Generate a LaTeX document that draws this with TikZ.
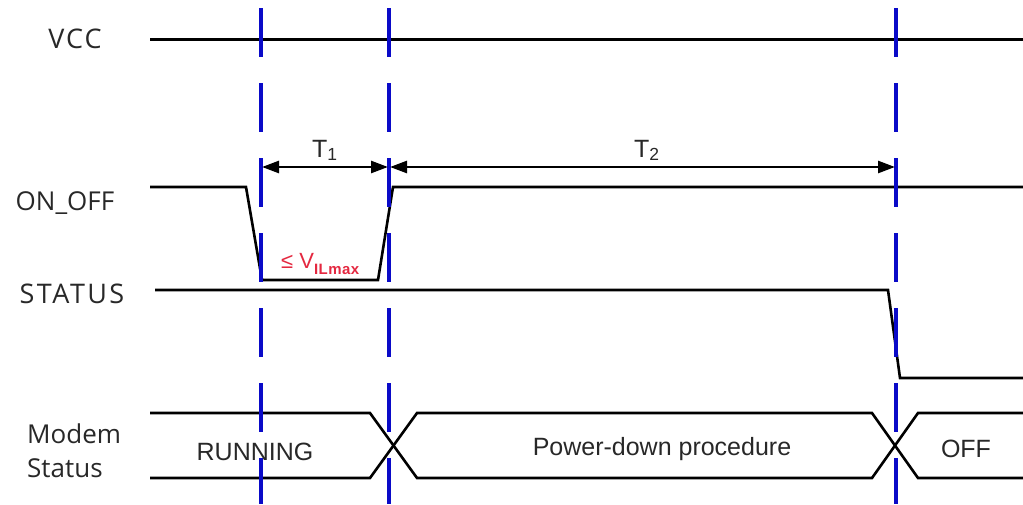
\documentclass[tikz,border=0pt]{standalone}
\usepackage{fontspec}
\setmainfont{Liberation Sans}
\newfontfamily\lblfont{Open Sans}
\newfontfamily\lblwide{Open Sans}[LetterSpace=9]
\newfontfamily\lblmid{Open Sans}[LetterSpace=7]
\newfontfamily\subfont{Liberation Sans}[LetterSpace=3]
\usetikzlibrary{arrows.meta}
\definecolor{mkblue}{RGB}{10,10,200}
\definecolor{mkred}{RGB}{228,40,64}
\definecolor{txt}{RGB}{40,40,40}
\begin{document}
\begin{tikzpicture}[x=1pt,y=-1pt,
  sig/.style={line width=2.6pt, black, line join=miter},
  marker/.style={line width=3.2pt, mkblue, dash pattern=on 49pt off 26pt},
  lbl/.style={font=\lblfont\fontsize{26}{31}\selectfont, text=txt, inner sep=0pt},
  inner/.style={font=\fontsize{25}{29}\selectfont, text=txt, inner sep=0pt, anchor=base},
  dimlbl/.style={font=\fontsize{25}{29}\selectfont, text=txt, inner sep=0pt, anchor=base west},
  dimarrow/.style={line width=2.6pt, {Triangle[length=17pt,width=12pt]}-{Triangle[length=17pt,width=12pt]}},
]
\useasboundingbox (0,0) rectangle (1023,504);
% signal labels
\node[lbl, anchor=base, font=\lblmid\fontsize{27}{31}\selectfont] (vcc) at (75,48) {VCC};
\node[lbl, anchor=base] (onoff) at (65,210) {ON\_OFF};
\node[lbl, anchor=base, font=\lblwide\fontsize{27}{31}\selectfont] (status) at (72,303) {STATUS};
\node[lbl, anchor=base west] (modem) at (27,443) {Modem};
\node[lbl, anchor=base west] (modemst) at (27,477) {Status};
% VCC
\draw[sig, line width=3pt] (150,39) -- (1023,39);
% ON_OFF
\draw[sig] (150,187) -- (246,187) -- (262,280) -- (378,280) -- (393,187) -- (1023,187);
% STATUS
\draw[sig] (155,290) -- (888,290) -- (900,378) -- (1023,378);
% Modem status bus
\draw[sig] (150,413) -- (370,413) -- (417,478) -- (872,478) -- (918,413) -- (1023,413);
\draw[sig] (150,478) -- (370,478) -- (417,413) -- (872,413) -- (918,478) -- (1023,478);
% marker lines
\coordinate (m1t) at (261,8); \coordinate (m1b) at (261,504);
\coordinate (m2t) at (389,8); \coordinate (m2b) at (389,504);
\coordinate (m3t) at (896,8); \coordinate (m3b) at (896,504);
\draw[marker] (m1t) -- (m1b);
\draw[marker] (m2t) -- (m2b);
\draw[marker] (m3t) -- (m3b);
% dimensions
\coordinate (d1) at (262,167); \coordinate (d2) at (388,167);
\coordinate (d3) at (390,167); \coordinate (d4) at (895,167);
\draw[dimarrow] (d1) -- (d2);
\draw[dimarrow] (d3) -- (d4);
\node[dimlbl] (t1) at (312,157) {T\textsubscript{1}};
\node[dimlbl] (t2) at (634,157) {T\textsubscript{2}};
% threshold label
\node[font=\fontsize{22}{24}\selectfont, text=mkred, inner sep=0pt, anchor=base west] (vil) at (281,268)
  {≤ V\raisebox{-0.28em}{\subfont\fontsize{15}{15}\selectfont\bfseries ILmax}};
% bus state labels
\node[inner] (run) at (255,460) {RUNNING};
\node[inner] (pd) at (662,455) {Power-down procedure};
\node[inner] (off) at (966,457) {OFF};
\end{tikzpicture}
\end{document}
